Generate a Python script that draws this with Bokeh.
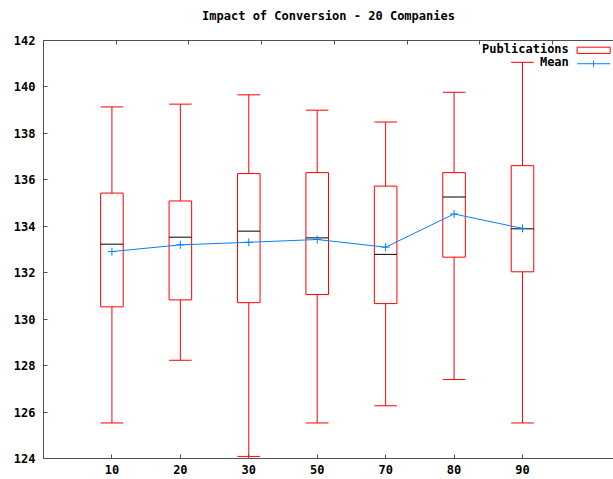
from bokeh.plotting import figure
from bokeh.models import (FixedTicker, LinearAxis, Range1d, Label, BoxAnnotation,
                          Arrow, ColumnDataSource, CustomLabelingPolicy)
from bokeh.embed import file_html
from bokeh.resources import INLINE

# ---- data ----
categories = ["10", "20", "30", "50", "70", "80", "90"]
whisker_high = [139.14, 139.26, 139.66, 139.00, 138.49, 139.77, 141.06]
quartile_3 = [135.43, 135.09, 136.27, 136.31, 135.73, 136.31, 136.61]
medians = [133.23, 133.53, 133.79, 133.50, 132.79, 135.26, 133.89]
quartile_1 = [130.53, 130.83, 130.71, 131.06, 130.67, 132.67, 132.04]
whisker_low = [125.53, 128.23, 124.09, 125.53, 126.27, 127.40, 125.53]
means = [132.91, 133.20, 133.31, 133.43, 133.10, 134.53, 133.91]
y_ticks = list(range(124, 143, 2))

# ---- styles ----
RED = "#ff0000"
BLUE = "#0080ff"
AXIS = "#505050"
FONT = "DejaVu Sans Mono"
BOX_W = 0.33

positions = list(range(1, len(categories) + 1))
src = ColumnDataSource(dict(
    x=positions,
    left=[x - BOX_W / 2 for x in positions],
    right=[x + BOX_W / 2 for x in positions],
    hi=whisker_high, q3=quartile_3, med=medians, q1=quartile_1,
    lo=whisker_low, mean=means,
))

X_END = 8.33
p = figure(width=613, height=479, output_backend="svg", toolbar_location=None,
           x_range=Range1d(0, X_END), y_range=Range1d(124, 142),
           min_border_left=43, min_border_right=0, min_border_top=38,
           min_border_bottom=21,
           title="Impact of Conversion - 20 Companies")
p.outline_line_color = None
p.background_fill_color = "white"
p.border_fill_color = "white"
p.xgrid.visible = False
p.ygrid.visible = False

p.title.align = "center"
p.title.offset = 7
p.title.standoff = 12
p.title.text_font = FONT
p.title.text_font_style = "bold"
p.title.text_font_size = "12px"
p.title.text_color = "black"

bottom_axis = p.below[0]
left_axis = p.left[0]

# mirrored (x2) ticks along the top border, no labels
p.extra_x_ranges = {"x2": Range1d(0, X_END / 1.0625)}
top_axis = LinearAxis(x_range_name="x2", ticker=FixedTicker(ticks=list(range(1, 8))))
top_axis.major_label_policy = CustomLabelingPolicy(code="return new Set()")
top_axis.major_label_standoff = 0
p.add_layout(top_axis, "above")

bottom_axis.ticker = FixedTicker(ticks=positions)
bottom_axis.major_label_overrides = {x: c for x, c in zip(positions, categories)}
left_axis.ticker = FixedTicker(ticks=y_ticks)

for ax in [bottom_axis, left_axis, top_axis]:
    ax.axis_line_color = AXIS
    ax.axis_line_width = 1
    ax.major_tick_line_color = AXIS
    ax.major_tick_in = 4
    ax.major_tick_out = 0
    ax.minor_tick_in = 0
    ax.minor_tick_out = 0
    ax.major_label_text_font = FONT
    ax.major_label_text_font_style = "bold"
    ax.major_label_text_color = "black"
    ax.major_label_text_font_size = "12px"
bottom_axis.major_label_standoff = 6
left_axis.major_label_standoff = 8

# ---- boxes ----
p.segment(x0="x", y0="q3", x1="x", y1="hi", line_color=RED, line_width=1, source=src)
p.segment(x0="x", y0="lo", x1="x", y1="q1", line_color=RED, line_width=1, source=src)
p.segment(x0="left", y0="hi", x1="right", y1="hi", line_color=RED, line_width=1, source=src)
p.segment(x0="left", y0="lo", x1="right", y1="lo", line_color=RED, line_width=1, source=src)
p.quad(left="left", right="right", bottom="q1", top="q3", fill_color=None,
       line_color=RED, line_width=1, source=src)
p.segment(x0="left", y0="med", x1="right", y1="med", line_color="black",
          line_width=1, source=src)

# ---- mean ----
p.line(x="x", y="mean", line_color=BLUE, line_width=1, source=src)
p.scatter(x="x", y="mean", marker="cross", size=8, line_color=BLUE, line_width=1, source=src)

# ---- legend (gnuplot style: label left, sample right) ----
p.add_layout(Label(x=7.677, y=141.62, text="Publications", text_align="right",
                   text_baseline="middle", text_font=FONT, text_font_style="bold",
                   text_font_size="12px", text_color="black"))
p.add_layout(Label(x=7.677, y=141.06, text="Mean", text_align="right",
                   text_baseline="middle", text_font=FONT, text_font_style="bold",
                   text_font_size="12px", text_color="black"))
p.add_layout(BoxAnnotation(left=7.798, right=8.281, top=141.713, bottom=141.443,
                           fill_color=None, line_color=RED, line_alpha=1.0,
                           line_width=1))
p.add_layout(Arrow(end=None, x_start=7.798, x_end=8.281, y_start=141.0, y_end=141.0,
                   line_color=BLUE, line_width=1))
p.add_layout(Arrow(end=None, x_start=8.039, x_end=8.039, y_start=140.86, y_end=141.14,
                   line_color=BLUE, line_width=1))

open("out.html", "w").write(file_html(p, INLINE))
